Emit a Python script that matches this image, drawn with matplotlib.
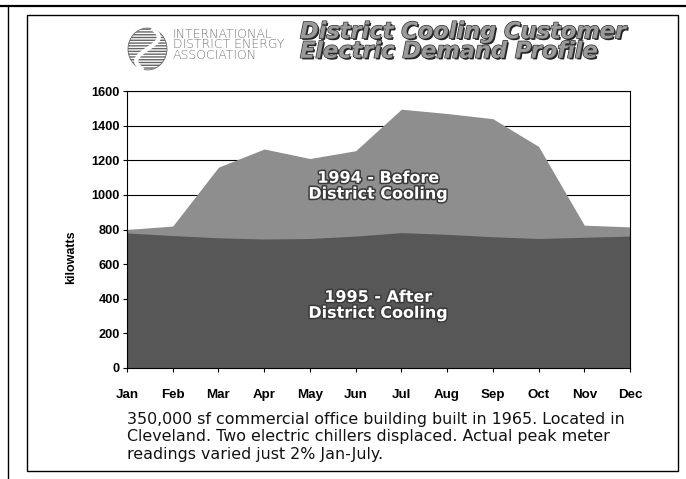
import numpy as np
import matplotlib.pyplot as plt
import matplotlib.patheffects as pe
from matplotlib.patches import Rectangle, Circle
from matplotlib.lines import Line2D

plt.rcParams['font.family'] = ['Liberation Sans', 'DejaVu Sans']

W, H = 686, 479

# dados
meses = ['Jan', 'Feb', 'Mar', 'Apr', 'May', 'Jun', 'Jul', 'Aug', 'Sep', 'Oct', 'Nov', 'Dec']
antes_1994 = [800, 820, 1160, 1265, 1210, 1255, 1495, 1470, 1440, 1280, 825, 815]
depois_1995 = [780, 765, 752, 745, 748, 762, 782, 772, 758, 748, 755, 762]
y_ticks = [0, 200, 400, 600, 800, 1000, 1200, 1400, 1600]
rotulo_antes = '1994 - Before\nDistrict Cooling'
rotulo_depois = '1995 - After\nDistrict Cooling'
titulo = 'District Cooling Customer\nElectric Demand Profile'
logo_texto = ['INTERNATIONAL', 'DISTRICT ENERGY', 'ASSOCIATION']
legenda = ('350,000 sf commercial office building built in 1965. Located in\n'
           'Cleveland. Two electric chillers displaced. Actual peak meter\n'
           'readings varied just 2% Jan-July.')


def fx(px):
    return px / W


def fy(py):
    return 1 - py / H


fig = plt.figure(figsize=(W / 100, H / 100), dpi=100)
fig.patch.set_facecolor('white')

# molduras
fig.add_artist(Line2D([0, 1], [fy(6), fy(6)], color='black', lw=1.6))
fig.add_artist(Line2D([fx(8), fx(8)], [fy(6), 0], color='black', lw=1.0))
fig.add_artist(Rectangle((fx(27), fy(471)), fx(678) - fx(27), fy(15) - fy(471),
                         fill=False, edgecolor='black', lw=1.0))

# eixo principal
ax = fig.add_axes([fx(127), fy(368), fx(630) - fx(127), fy(91) - fy(368)])
x = np.arange(len(meses))
ax.fill_between(x, 0, antes_1994, color='#8e8e8e', lw=0, zorder=2)
ax.fill_between(x, 0, depois_1995, color='#575757', lw=0, zorder=3)
ax.set_xlim(0, 11)
ax.set_ylim(0, 1600)
ax.set_yticks(y_ticks)
ax.set_xticks(x)
ax.set_xticklabels(meses)
ax.yaxis.grid(True, color='black', lw=0.8, zorder=1)
ax.set_axisbelow(True)
for s in ax.spines.values():
    s.set_linewidth(0.8)
    s.set_zorder(5)
ax.tick_params(axis='y', length=3, width=0.8, pad=2, labelsize=9.2)
ax.tick_params(axis='x', length=3, width=0.8, pad=12, labelsize=9.6)
for lbl in ax.get_xticklabels() + ax.get_yticklabels():
    lbl.set_fontweight('bold')
ax.set_ylabel('kilowatts', fontsize=9, fontweight='bold')
ax.yaxis.set_label_coords(-0.10, 0.4)

efeito = [pe.withStroke(linewidth=2.2, foreground='#3a3a3a')]
ax.text(5.5, 1050, rotulo_antes, ha='center', va='center', color='white',
        fontsize=11.5, fontweight='bold', linespacing=1.08, family='DejaVu Sans',
        path_effects=efeito, zorder=6)
ax.text(5.5, 362, rotulo_depois, ha='center', va='center', color='white',
        fontsize=11.5, fontweight='bold', linespacing=1.08, family='DejaVu Sans',
        path_effects=efeito, zorder=6)

# logotipo
logo = fig.add_axes([fx(127), fy(71), fx(168) - fx(127), fy(27) - fy(71)])
logo.set_xlim(-1, 1)
logo.set_ylim(-1, 1)
logo.axis('off')
logo.add_patch(Circle((0, 0), 0.95, facecolor='white', edgecolor='#666666',
                      hatch='------', lw=0.6))
t = np.linspace(-1, 1, 100)
logo.plot(0.55 * np.sin(t * 2.6), t * 0.9, color='white', lw=3)
for i, linha in enumerate(logo_texto):
    fig.text(fx(173), fy(34 + i * 10.5), linha, fontsize=9, color='#747474',
             va='center', ha='left', fontweight='light', family='DejaVu Sans')

# titulo
fig.text(fx(300), fy(42), titulo, fontsize=16.2, fontweight='bold', fontstyle='italic',
         family='DejaVu Sans', color='#9a9a9a', va='center', ha='left', linespacing=0.97,
         path_effects=[pe.withSimplePatchShadow(offset=(1.2, -1.2), shadow_rgbFace='#222222', alpha=1),
                       pe.withStroke(linewidth=1.0, foreground='#333333')])

# legenda
fig.text(fx(127), fy(437), legenda, fontsize=11.4, color='#111111', va='center', ha='left',
         family='DejaVu Sans', linespacing=1.2)

fig.savefig('out.png', dpi=100)
